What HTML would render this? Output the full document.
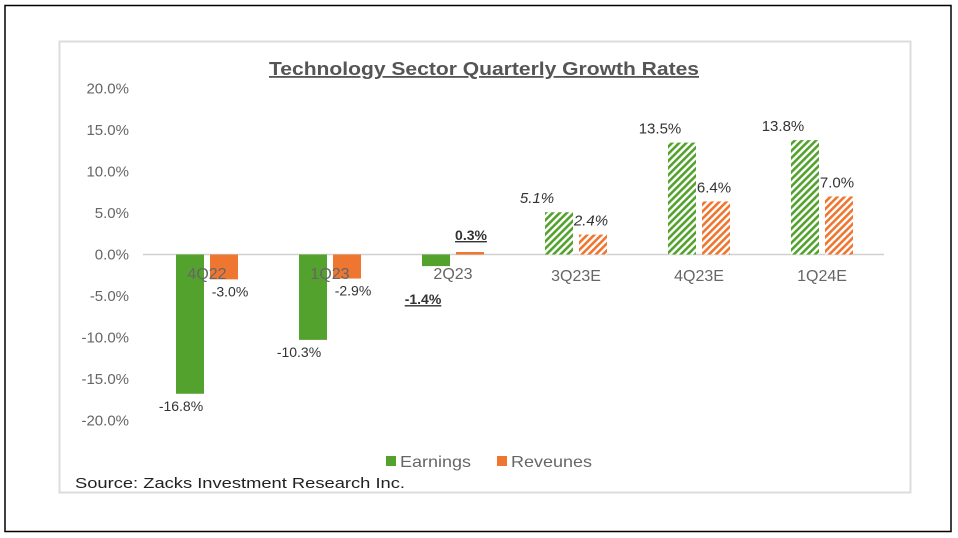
<!DOCTYPE html>
<html><head><meta charset="utf-8"><style>
html,body{margin:0;padding:0;background:#fff;}
svg{display:block;font-family:"Liberation Sans",Arial,sans-serif;}
</style></head><body>
<svg id="chart" width="958" height="538">
<defs>
<pattern id="hg" width="5" height="5" patternUnits="userSpaceOnUse" patternTransform="rotate(45)">
<rect width="5" height="5" fill="#fff"/><rect width="2.6" height="5" fill="#54a22e"/></pattern>
<pattern id="ho" width="5" height="5" patternUnits="userSpaceOnUse" patternTransform="rotate(45)">
<rect width="5" height="5" fill="#fff"/><rect width="2.6" height="5" fill="#ee7630"/></pattern>
</defs>
<rect x="5" y="5.5" width="946" height="526" fill="#fff" stroke="#000" stroke-width="1.5"/>
<rect x="59.5" y="41.5" width="851" height="451" fill="#fff" stroke="#dcdcdc" stroke-width="2"/>
<text x="269" y="75" font-size="18" font-weight="bold" fill="#555" text-decoration="underline" textLength="430" lengthAdjust="spacingAndGlyphs">Technology Sector  Quarterly Growth Rates</text>
<g id="yaxis"></g>
<line x1="143" y1="254.5" x2="884" y2="254.5" stroke="#d0d0d0" stroke-width="1.5"/>
<g id="bars"></g>
<g>
<rect x="386" y="456" width="10" height="10" fill="#54a22e"/>
<text x="400" y="467" font-size="16" fill="#666" textLength="71" lengthAdjust="spacingAndGlyphs">Earnings</text>
<rect x="497" y="456" width="10" height="10" fill="#ee7630"/>
<text x="511" y="467" font-size="16" fill="#666" textLength="81" lengthAdjust="spacingAndGlyphs">Reveunes</text>
</g>
<text x="75" y="488" font-size="15" fill="#222" textLength="330" lengthAdjust="spacingAndGlyphs">Source: Zacks Investment  Research Inc.</text>
</svg>
<script>
const categories=["4Q22","1Q23","2Q23","3Q23E","4Q23E","1Q24E"];
const earnings=[-16.8,-10.3,-1.4,5.1,13.5,13.8];
const revenues=[-3.0,-2.9,0.3,2.4,6.4,7.0];
const estimated=[false,false,false,true,true,true];
const yTicks=[20,15,10,5,0,-5,-10,-15,-20];
const NS="http://www.w3.org/2000/svg";
const y=v=>254.5-v*8.29;
const cx=i=>207+i*123;
function mk(tag,attrs,parent,text){const e=document.createElementNS(NS,tag);for(const k in attrs)e.setAttribute(k,attrs[k]);if(text!==undefined)e.textContent=text;parent.appendChild(e);return e;}
const ya=document.getElementById('yaxis');
yTicks.forEach(t=>{const e=mk('text',{x:129,y:y(t)+5,'text-anchor':'end','font-size':15,fill:'#666'},ya,t.toFixed(1)+'%');

});
const g=document.getElementById('bars');
const fmt=v=>v.toFixed(1)+'%';
categories.forEach((c,i)=>{
  const x=cx(i);
  [[earnings[i],x-31,'#54a22e','url(#hg)','bar-earnings-'+c],[revenues[i],x+3,'#ee7630','url(#ho)','bar-revenues-'+c]].forEach(([v,bx,col,pat,name],j)=>{
    const top=Math.min(y(v),y(0)),h=Math.max(Math.abs(y(v)-y(0)),1.5);
    const r=mk('rect',{x:bx,y:top,width:28,height:h,fill:estimated[i]?pat:col},g);
    
    
    let lx,ly,anchor='middle';
    if(i===2){lx=bx+14+(j===0?-13:1);ly=j===0?y(v)+38:y(v)-12;}
    else if(v<0){ if(j===0){lx=bx+(i===0?6:0);ly=y(v)+17;} else {lx=bx+20;ly=y(v)+17;} }
    else { if(j===0){lx=bx-8;ly=y(v)-9;} else {lx=bx+14+(estimated[i]?-2:0);ly=y(v)-9;} }
    if(i===0&&j===0){lx=bx+5;}
    const t=mk('text',{x:lx,y:ly,'text-anchor':anchor,'font-size':i>=3?15:14,fill:'#333','font-style':i===3?'italic':'normal','font-weight':i===2?'bold':'normal','text-decoration':i===2?'underline':'none'},g,fmt(v));
    
    
  });
  const cl=mk('text',{x:x,y:i<3?279:281,'text-anchor':'middle','font-size':16,fill:'#666'},g,c);
  
  
});
</script>
</body></html>
